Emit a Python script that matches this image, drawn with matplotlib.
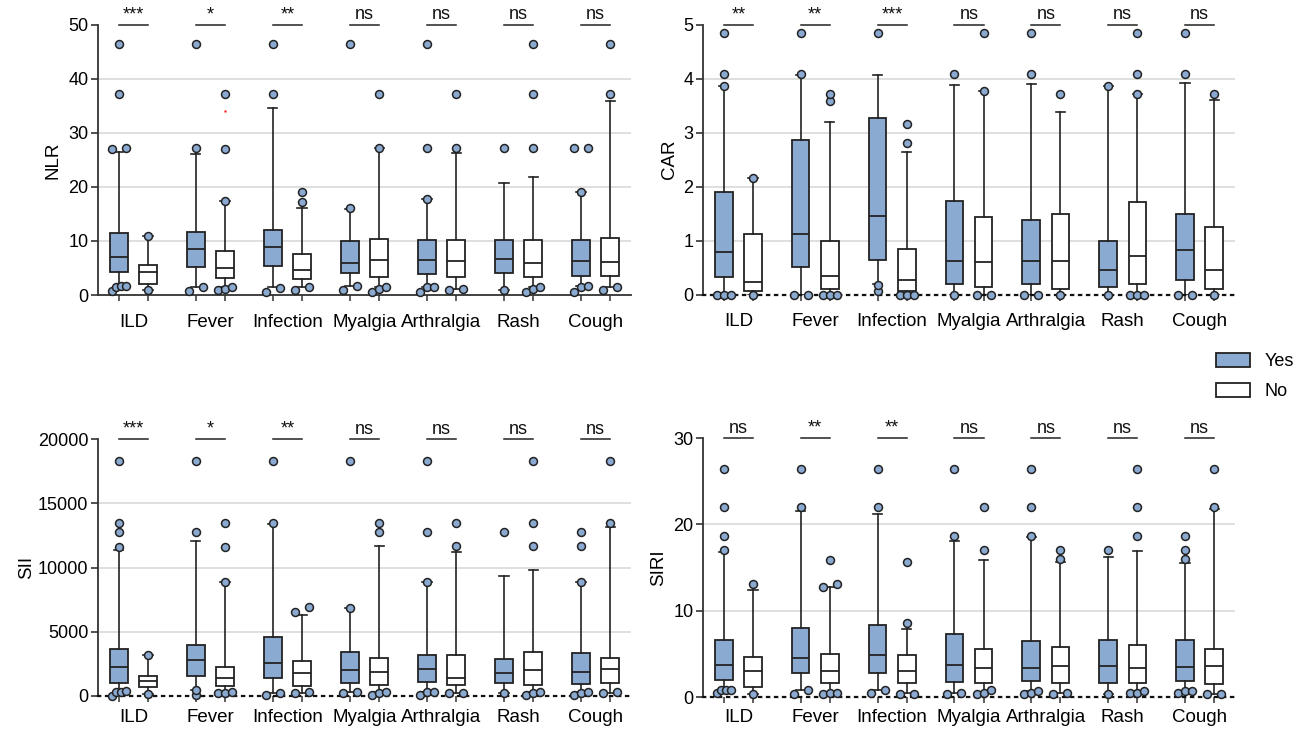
import numpy as np
import matplotlib
matplotlib.use('Agg')
import matplotlib.pyplot as plt
from matplotlib.patches import Patch

plt.rcParams['font.family'] = ['Liberation Sans', 'DejaVu Sans']

categories = ['ILD', 'Fever', 'Infection', 'Myalgia', 'Arthralgia', 'Rash', 'Cough']

# box stats per category: whislo, q1, median, q3, whishi
nlr_yes_box = [[1.7, 4.2, 7.0, 11.4, 26.5], [1.4, 5.25, 8.6, 11.7, 26.0], [1.4, 5.3, 8.8, 12.1, 34.6],
               [1.6, 4.1, 6.0, 9.9, 15.9], [1.5, 3.9, 6.5, 10.1, 17.7], [0.9, 4.1, 6.6, 10.2, 20.7],
               [1.6, 3.6, 6.3, 10.1, 19.1]]
nlr_no_box = [[0.9, 2.0, 4.3, 5.6, 10.9], [1.4, 3.15, 5.0, 8.1, 17.3], [1.4, 3.0, 4.7, 7.5, 16.1],
              [1.5, 3.4, 6.4, 10.3, 27.1], [1.1, 3.4, 6.2, 10.1, 26.3], [1.4, 3.3, 5.9, 10.25, 21.9],
              [1.4, 3.6, 6.1, 10.5, 35.9]]
nlr_yes_out = [[46.4, 37.2, 27.2, 27.0, 0.7, 1.4, 1.6, 1.7], [46.4, 27.2, 0.7, 1.4], [46.4, 37.2, 0.6, 1.3],
               [46.4, 16.1, 0.9, 1.6], [46.4, 27.2, 17.7, 0.6, 1.5, 1.5], [27.2, 0.9],
               [27.2, 27.1, 19.1, 0.6, 1.6, 1.4]]
nlr_no_out = [[10.9, 0.9], [37.2, 27.0, 17.3, 0.9, 1.5, 1.2], [19.1, 17.2, 0.9, 1.4],
              [37.2, 27.2, 0.6, 1.5, 1.2], [37.2, 27.1, 0.9, 1.2], [46.4, 37.2, 27.1, 0.6, 1.5, 1.2],
              [46.4, 37.2, 0.9, 1.4]]
nlr_sig = ['***', '*', '**', 'ns', 'ns', 'ns', 'ns']
nlr_mark = [34.1]  # small red mark above Fever / No

car_yes_box = [[0, 0.32, 0.79, 1.90, 3.87], [0, 0.52, 1.12, 2.86, 4.07], [0.2, 0.64, 1.46, 3.27, 4.07],
               [0, 0.2, 0.62, 1.73, 3.89], [0, 0.19, 0.62, 1.38, 3.91], [0, 0.14, 0.46, 1.0, 3.87],
               [0, 0.28, 0.83, 1.49, 3.92]]
car_no_box = [[0, 0.074, 0.235, 1.13, 2.17], [0, 0.11, 0.34, 1.0, 3.19], [0, 0.074, 0.265, 0.84, 2.65],
              [0, 0.15, 0.6, 1.43, 3.78], [0, 0.105, 0.62, 1.49, 3.38], [0, 0.19, 0.72, 1.72, 3.72],
              [0, 0.1, 0.46, 1.25, 3.61]]
car_yes_out = [[4.85, 4.08, 3.87, 0, 0, 0], [4.85, 4.08, 0, 0], [4.85, 0.18, 0.07], [4.08, 0],
               [4.85, 4.08, 0, 0], [3.87, 0], [4.85, 4.08, 0, 0]]
car_no_out = [[2.17, 0], [3.72, 3.58, 0, 0, 0], [3.17, 2.81, 0, 0, 0], [4.85, 3.78, 0, 0],
              [3.72, 0], [4.85, 4.08, 3.72, 0, 0, 0], [3.72, 0]]
car_sig = ['**', '**', '***', 'ns', 'ns', 'ns', 'ns']

sii_yes_box = [[360, 1010, 2290, 3690, 11390], [490, 1530, 2780, 4000, 12060], [210, 1380, 2600, 4630, 13420],
               [310, 990, 2030, 3460, 6860], [310, 1070, 2130, 3170, 8870], [210, 1010, 1790, 2910, 9330],
               [310, 910, 1900, 3350, 8870]]
sii_no_box = [[180, 730, 1140, 1590, 3170], [230, 810, 1430, 2240, 8870], [210, 810, 1790, 2700, 6270],
              [290, 860, 1900, 2990, 11670], [210, 830, 1430, 3170, 11210], [290, 880, 2050, 3430, 9830],
              [210, 1010, 2080, 2960, 13130]]
sii_yes_out = [[18300, 13440, 12790, 11620, 0, 310, 360, 290], [18300, 12790, 80, 490], [18300, 13440, 80, 210],
               [18300, 6860, 210, 310], [18300, 12790, 8870, 100, 310, 310], [12790, 210],
               [12790, 11670, 8870, 50, 310, 210]]
sii_no_out = [[3170, 180], [13440, 11620, 8870, 210, 310, 210], [6890, 6530, 210, 310],
              [13440, 12790, 100, 290, 210], [13440, 11670, 210, 210], [18300, 13440, 11670, 100, 290, 210],
              [18300, 13440, 210, 310]]
sii_sig = ['***', '*', '**', 'ns', 'ns', 'ns', 'ns']

siri_yes_box = [[0.85, 1.94, 3.72, 6.66, 16.84], [0.77, 2.75, 4.57, 8.0, 21.56], [0.77, 2.75, 4.84, 8.36, 21.14],
                [0.43, 1.78, 3.72, 7.32, 18.12], [0.66, 1.86, 3.41, 6.5, 18.5], [0.31, 1.66, 3.6, 6.58, 16.26],
                [0.66, 1.86, 3.52, 6.58, 15.49]]
siri_no_box = [[0.31, 1.12, 3.0, 4.65, 12.35], [0.43, 1.63, 2.98, 5.0, 12.74], [0.43, 1.59, 2.98, 4.92, 7.86],
               [0.43, 1.63, 3.41, 5.61, 15.9], [0.43, 1.66, 3.6, 5.77, 15.68], [0.74, 1.63, 3.37, 6.08, 16.88],
               [0.35, 1.55, 3.56, 5.57, 21.76]]
siri_yes_out = [[26.44, 21.95, 18.7, 17.0, 0.43, 0.85, 0.77, 0.85], [26.44, 21.95, 0.31, 0.77],
                [26.44, 21.95, 0.43, 0.77], [26.44, 18.7, 0.31, 0.43], [26.44, 21.95, 18.7, 0.31, 0.66, 0.43],
                [17.0, 0.31], [18.7, 17.0, 15.99, 0.43, 0.74, 0.66]]
siri_no_out = [[13.05, 0.31], [15.9, 12.74, 13.05, 0.31, 0.43, 0.43], [15.64, 8.52, 0.31, 0.31],
               [21.95, 17.0, 0.31, 0.85, 0.43], [17.0, 16.0, 0.31, 0.43], [26.44, 21.95, 18.7, 0.43, 0.74, 0.43],
               [26.44, 21.95, 0.31, 0.35]]
siri_sig = ['ns', '**', '**', 'ns', 'ns', 'ns', 'ns']

yes_color = '#8aaad2'
line_color = '#222222'
W = 1303
H = 729

fig = plt.figure(figsize=(W / 100, H / 100), dpi=100)


def to_stats(rows):
    return [dict(whislo=r[0], q1=r[1], med=r[2], q3=r[3], whishi=r[4], fliers=[]) for r in rows]


def swarm(ax, x, vals, d=7.0, gap=5.0):
    # spread overlapping points sideways, like a dot swarm
    vals = sorted(vals)
    px = ax.transData.transform([(x, v) for v in vals])
    groups = []
    for i in range(len(vals)):
        if groups and px[i][1] - px[groups[-1][-1]][1] < gap:
            groups[-1].append(i)
        else:
            groups.append([i])
    pts = []
    for g in groups:
        offs = np.linspace(-d, d, len(g)) if len(g) > 1 else [0.0]
        for i, o in zip(g, offs):
            pts.append((px[i][0] + o, px[i][1]))
    data = ax.transData.inverted().transform(pts)
    ax.plot(data[:, 0], data[:, 1], 'o', ms=5.7, mfc=yes_color, mec=line_color, mew=1.1,
            clip_on=False, zorder=5)


def panel(px_box, ylabel, ymax, ystep, yes_box, no_box, yes_out, no_out, sig, dotted, lpad, xpad):
    x0, y0, x1, y1 = px_box
    ax = fig.add_axes([x0 / W, 1 - y1 / H, (x1 - x0) / W, (y1 - y0) / H])
    n = len(categories)
    centers = np.arange(n)
    pos_yes = centers - 0.19
    pos_no = centers + 0.19
    ax.set_xlim(-0.46, n - 1 + 0.46)
    ax.set_ylim(0, ymax)

    for stats, pos, fc in [(to_stats(yes_box), pos_yes, yes_color), (to_stats(no_box), pos_no, 'white')]:
        ax.bxp(stats, positions=pos, widths=0.23, capwidths=0.12, patch_artist=True, showfliers=False,
               boxprops=dict(facecolor=fc, edgecolor=line_color, linewidth=1.3),
               medianprops=dict(color=line_color, linewidth=1.3),
               whiskerprops=dict(color=line_color, linewidth=1.2),
               capprops=dict(color=line_color, linewidth=1.2), manage_ticks=False)

    for i in range(n):
        swarm(ax, pos_yes[i], yes_out[i])
        swarm(ax, pos_no[i], no_out[i])
        ax.plot([pos_yes[i], pos_no[i]], [ymax, ymax], color=line_color, lw=1.1, clip_on=False)
        ax.annotate(sig[i], (centers[i], ymax), xytext=(0, 1), textcoords='offset points',
                    ha='center', va='bottom', fontsize=13, color='#111111')

    yt = np.arange(0, ymax + ystep / 2, ystep)
    ax.set_yticks(yt)
    for v in yt[1:-1]:
        ax.axhline(v, color='#d9d9d9', lw=1.2, zorder=0)

    ax.set_xticks(np.concatenate([pos_yes, pos_no]))
    ax.set_xticklabels([])
    ax.set_xticks(centers, minor=True)
    ax.set_xticklabels(categories, minor=True)
    ax.tick_params(axis='x', which='major', length=4, width=1.1, color='#333333')
    ax.tick_params(axis='x', which='minor', length=0, pad=xpad, labelsize=13.5)
    ax.tick_params(axis='y', length=5, width=1.2, color='#333333', labelsize=13, pad=2)

    for s in ['top', 'right']:
        ax.spines[s].set_visible(False)
    ax.spines['left'].set_color('#333333')
    ax.spines['left'].set_linewidth(1.3)
    if dotted:
        ax.spines['bottom'].set_color('#111111')
        ax.spines['bottom'].set_linewidth(1.6)
        ax.spines['bottom'].set_linestyle((0, (1, 2.6)))
    else:
        ax.spines['bottom'].set_color('#333333')
        ax.spines['bottom'].set_linewidth(1.3)
    ax.set_ylabel(ylabel, fontsize=13.5, labelpad=lpad)
    return ax, pos_no


ax1, no1 = panel((98, 24.7, 631, 295), 'NLR', 50, 10, nlr_yes_box, nlr_no_box,
                 nlr_yes_out, nlr_no_out, nlr_sig, False, 4.5, 13.5)
ax1.plot([no1[1]] * len(nlr_mark), nlr_mark, 's', ms=2, color='red', mec='none', zorder=6)
panel((703, 24.7, 1235, 294.7), 'CAR', 5, 1, car_yes_box, car_no_box,
      car_yes_out, car_no_out, car_sig, True, 4, 13.5)
panel((98, 439, 631, 696), 'SII', 20000, 5000, sii_yes_box, sii_no_box,
      sii_yes_out, sii_no_out, sii_sig, True, 2, 9)
panel((703, 438, 1235, 697), 'SIRI', 30, 10, siri_yes_box, siri_no_box,
      siri_yes_out, siri_no_out, siri_sig, True, 4.5, 8.5)

handles = [Patch(facecolor=yes_color, edgecolor=line_color, lw=1.3, label='Yes'),
           Patch(facecolor='white', edgecolor=line_color, lw=1.3, label='No')]
fig.legend(handles=handles, loc='upper left', bbox_to_anchor=(1216 / W, 1 - 353 / H), frameon=False,
           fontsize=13, handlelength=1.9, handleheight=0.8, labelspacing=0.7, handletextpad=0.8,
           borderaxespad=0, borderpad=0)

fig.savefig('out.png', dpi=100)
